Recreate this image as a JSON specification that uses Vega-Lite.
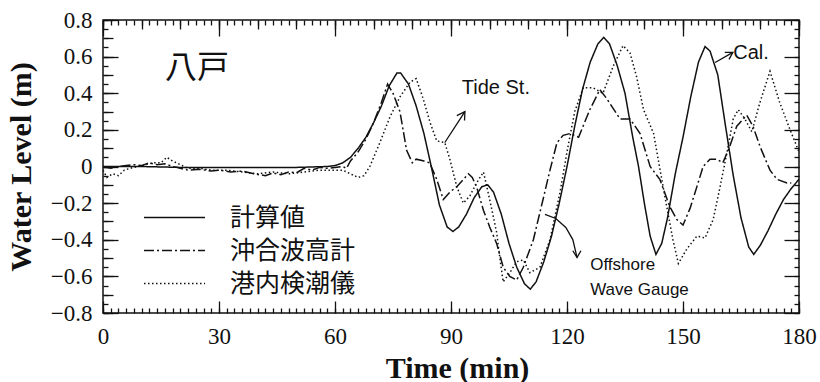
{
  "$schema": "https://vega.github.io/schema/vega-lite/v6.json",
  "width": 696,
  "height": 293,
  "autosize": {"type": "none"},
  "padding": {"left": 103, "top": 20, "right": 21, "bottom": 69},
  "background": "white",
  "config": {
    "view": {"stroke": "#111", "strokeWidth": 1.5},
    "axis": {"domain": false, "grid": false, "ticks": false, "labelFont": "Liberation Serif", "labelFontSize": 23, "labelColor": "#111", "gridColor": "#111", "gridWidth": 1.3, "gridOpacity": 1, "titleFont": "Liberation Serif", "titleFontSize": 30, "titleFontWeight": "bold", "titleColor": "#111"},
    "legend": {"orient": "none", "legendX": 59, "legendY": 185, "padding": 0, "labelFont": "Noto Sans CJK JP", "labelFontSize": 25, "labelColor": "#111", "labelOffset": 43, "rowPadding": 7, "symbolType": "M-3.05,0L3.05,0", "symbolSize": 400, "symbolStrokeWidth": 1.6, "symbolStrokeColor": "#111"}
  },
  "datasets": {
    "main": [
      {"s":"計算値","t":0,"v":0},{"s":"計算値","t":10,"v":0},{"s":"計算値","t":20,"v":-0.005},{"s":"計算値","t":30,"v":-0.005},{"s":"計算値","t":40,"v":-0.005},{"s":"計算値","t":50,"v":-0.005},{"s":"計算値","t":58,"v":0},{"s":"計算値","t":60,"v":0.005},{"s":"計算値","t":62,"v":0.02},{"s":"計算値","t":64,"v":0.05},{"s":"計算値","t":66,"v":0.1},{"s":"計算値","t":68,"v":0.16},{"s":"計算値","t":70,"v":0.24},{"s":"計算値","t":72,"v":0.33},{"s":"計算値","t":74,"v":0.44},{"s":"計算値","t":76,"v":0.51},{"s":"計算値","t":77,"v":0.51},{"s":"計算値","t":79,"v":0.45},{"s":"計算値","t":81,"v":0.33},{"s":"計算値","t":83,"v":0.18},{"s":"計算値","t":85,"v":-0.01},{"s":"計算値","t":87,"v":-0.21},{"s":"計算値","t":89,"v":-0.33},{"s":"計算値","t":90.5,"v":-0.355},{"s":"計算値","t":92,"v":-0.33},{"s":"計算値","t":94,"v":-0.26},{"s":"計算値","t":96,"v":-0.17},{"s":"計算値","t":98,"v":-0.11},{"s":"計算値","t":99.5,"v":-0.1},{"s":"計算値","t":101,"v":-0.14},{"s":"計算値","t":103,"v":-0.26},{"s":"計算値","t":105,"v":-0.42},{"s":"計算値","t":107,"v":-0.55},{"s":"計算値","t":109,"v":-0.64},{"s":"計算値","t":110.5,"v":-0.67},{"s":"計算値","t":112,"v":-0.63},{"s":"計算値","t":114,"v":-0.52},{"s":"計算値","t":116,"v":-0.38},{"s":"計算値","t":118,"v":-0.2},{"s":"計算値","t":120,"v":0},{"s":"計算値","t":122,"v":0.22},{"s":"計算値","t":124,"v":0.42},{"s":"計算値","t":126,"v":0.57},{"s":"計算値","t":128,"v":0.67},{"s":"計算値","t":129.5,"v":0.705},{"s":"計算値","t":131,"v":0.67},{"s":"計算値","t":133,"v":0.55},{"s":"計算値","t":135,"v":0.4},{"s":"計算値","t":137,"v":0.16},{"s":"計算値","t":138.5,"v":0},{"s":"計算値","t":140,"v":-0.2},{"s":"計算値","t":141.5,"v":-0.38},{"s":"計算値","t":143,"v":-0.48},{"s":"計算値","t":144.5,"v":-0.42},{"s":"計算値","t":146,"v":-0.28},{"s":"計算値","t":148,"v":-0.04},{"s":"計算値","t":150,"v":0.16},{"s":"計算値","t":152,"v":0.38},{"s":"計算値","t":154,"v":0.57},{"s":"計算値","t":155.7,"v":0.655},{"s":"計算値","t":157,"v":0.63},{"s":"計算値","t":159,"v":0.5},{"s":"計算値","t":161,"v":0.22},{"s":"計算値","t":163,"v":-0.05},{"s":"計算値","t":165,"v":-0.28},{"s":"計算値","t":167,"v":-0.44},{"s":"計算値","t":168.3,"v":-0.48},{"s":"計算値","t":170,"v":-0.43},{"s":"計算値","t":172,"v":-0.35},{"s":"計算値","t":174,"v":-0.26},{"s":"計算値","t":176,"v":-0.18},{"s":"計算値","t":178,"v":-0.12},{"s":"計算値","t":180,"v":-0.07},

      {"s":"沖合波高計","t":0,"v":0},{"s":"沖合波高計","t":2,"v":-0.01},{"s":"沖合波高計","t":4,"v":0},{"s":"沖合波高計","t":6,"v":0.005},{"s":"沖合波高計","t":8,"v":0.01},{"s":"沖合波高計","t":10,"v":0.005},{"s":"沖合波高計","t":12,"v":0.02},{"s":"沖合波高計","t":14,"v":0.01},{"s":"沖合波高計","t":16,"v":0.015},{"s":"沖合波高計","t":18,"v":0},{"s":"沖合波高計","t":20,"v":-0.01},{"s":"沖合波高計","t":22,"v":-0.02},{"s":"沖合波高計","t":25,"v":-0.015},{"s":"沖合波高計","t":28,"v":-0.025},{"s":"沖合波高計","t":30,"v":-0.02},{"s":"沖合波高計","t":33,"v":-0.03},{"s":"沖合波高計","t":36,"v":-0.025},{"s":"沖合波高計","t":39,"v":-0.04},{"s":"沖合波高計","t":42,"v":-0.05},{"s":"沖合波高計","t":44,"v":-0.035},{"s":"沖合波高計","t":46,"v":-0.045},{"s":"沖合波高計","t":48,"v":-0.03},{"s":"沖合波高計","t":50,"v":-0.035},{"s":"沖合波高計","t":52,"v":-0.01},{"s":"沖合波高計","t":54,"v":-0.02},{"s":"沖合波高計","t":56,"v":-0.005},{"s":"沖合波高計","t":58,"v":-0.01},{"s":"沖合波高計","t":60,"v":-0.005},{"s":"沖合波高計","t":62,"v":0},{"s":"沖合波高計","t":63,"v":-0.01},{"s":"沖合波高計","t":64,"v":0.03},{"s":"沖合波高計","t":66,"v":0.08},{"s":"沖合波高計","t":68,"v":0.15},{"s":"沖合波高計","t":70,"v":0.24},{"s":"沖合波高計","t":72,"v":0.35},{"s":"沖合波高計","t":73.6,"v":0.45},{"s":"沖合波高計","t":75,"v":0.4},{"s":"沖合波高計","t":76.8,"v":0.3},{"s":"沖合波高計","t":78.5,"v":0.09},{"s":"沖合波高計","t":80,"v":0.02},{"s":"沖合波高計","t":81,"v":0.04},{"s":"沖合波高計","t":83,"v":0.03},{"s":"沖合波高計","t":84.5,"v":0.02},{"s":"沖合波高計","t":86.3,"v":-0.07},{"s":"沖合波高計","t":88,"v":-0.18},{"s":"沖合波高計","t":89.7,"v":-0.14},{"s":"沖合波高計","t":91.5,"v":-0.11},{"s":"沖合波高計","t":93.2,"v":-0.07},{"s":"沖合波高計","t":94.5,"v":-0.04},{"s":"沖合波高計","t":95.5,"v":-0.06},{"s":"沖合波高計","t":96.6,"v":-0.11},{"s":"沖合波高計","t":98.4,"v":-0.24},{"s":"沖合波高計","t":100,"v":-0.33},{"s":"沖合波高計","t":101.8,"v":-0.42},{"s":"沖合波高計","t":103.5,"v":-0.55},{"s":"沖合波高計","t":105.2,"v":-0.6},{"s":"沖合波高計","t":107,"v":-0.62},{"s":"沖合波高計","t":108.7,"v":-0.55},{"s":"沖合波高計","t":111.3,"v":-0.4},{"s":"沖合波高計","t":113.8,"v":-0.18},{"s":"沖合波高計","t":115.6,"v":-0.02},{"s":"沖合波高計","t":117.4,"v":0.13},{"s":"沖合波高計","t":119,"v":0.17},{"s":"沖合波高計","t":120.8,"v":0.18},{"s":"沖合波高計","t":123,"v":0.16},{"s":"沖合波高計","t":125.9,"v":0.31},{"s":"沖合波高計","t":128.5,"v":0.42},{"s":"沖合波高計","t":130.3,"v":0.37},{"s":"沖合波高計","t":133.7,"v":0.26},{"s":"沖合波高計","t":136.3,"v":0.26},{"s":"沖合波高計","t":138.9,"v":0.18},{"s":"沖合波高計","t":141.5,"v":0},{"s":"沖合波高計","t":144,"v":-0.07},{"s":"沖合波高計","t":146.6,"v":-0.22},{"s":"沖合波高計","t":148.4,"v":-0.29},{"s":"沖合波高計","t":150,"v":-0.32},{"s":"沖合波高計","t":151.8,"v":-0.23},{"s":"沖合波高計","t":153.6,"v":-0.11},{"s":"沖合波高計","t":155.2,"v":0},{"s":"沖合波高計","t":157,"v":0.04},{"s":"沖合波高計","t":158.8,"v":0.04},{"s":"沖合波高計","t":160.3,"v":0.02},{"s":"沖合波高計","t":162.1,"v":0.11},{"s":"沖合波高計","t":163.9,"v":0.22},{"s":"沖合波高計","t":166.5,"v":0.28},{"s":"沖合波高計","t":168.1,"v":0.22},{"s":"沖合波高計","t":169.9,"v":0.11},{"s":"沖合波高計","t":172.5,"v":-0.02},{"s":"沖合波高計","t":174.3,"v":-0.07},{"s":"沖合波高計","t":176.9,"v":-0.09},{"s":"沖合波高計","t":178,"v":-0.09},

      {"s":"港内検潮儀","t":0,"v":-0.02},{"s":"港内検潮儀","t":1,"v":-0.06},{"s":"港内検潮儀","t":2.5,"v":-0.04},{"s":"港内検潮儀","t":4,"v":-0.05},{"s":"港内検潮儀","t":5.5,"v":-0.02},{"s":"港内検潮儀","t":7,"v":-0.01},{"s":"港内検潮儀","t":9,"v":0},{"s":"港内検潮儀","t":11,"v":0.01},{"s":"港内検潮儀","t":13,"v":0.02},{"s":"港内検潮儀","t":15,"v":0.02},{"s":"港内検潮儀","t":16.5,"v":0.05},{"s":"港内検潮儀","t":18,"v":0.03},{"s":"港内検潮儀","t":20,"v":0.01},{"s":"港内検潮儀","t":22,"v":-0.01},{"s":"港内検潮儀","t":25,"v":-0.01},{"s":"港内検潮儀","t":28,"v":-0.02},{"s":"港内検潮儀","t":32,"v":-0.02},{"s":"港内検潮儀","t":36,"v":-0.03},{"s":"港内検潮儀","t":40,"v":-0.04},{"s":"港内検潮儀","t":44,"v":-0.03},{"s":"港内検潮儀","t":48,"v":-0.04},{"s":"港内検潮儀","t":52,"v":-0.03},{"s":"港内検潮儀","t":56,"v":-0.02},{"s":"港内検潮儀","t":60,"v":-0.02},{"s":"港内検潮儀","t":62,"v":-0.02},{"s":"港内検潮儀","t":64,"v":-0.04},{"s":"港内検潮儀","t":66,"v":-0.06},{"s":"港内検潮儀","t":67.5,"v":-0.05},{"s":"港内検潮儀","t":69,"v":0},{"s":"港内検潮儀","t":71.6,"v":0.13},{"s":"港内検潮儀","t":74.2,"v":0.27},{"s":"港内検潮儀","t":76.8,"v":0.38},{"s":"港内検潮儀","t":79.4,"v":0.46},{"s":"港内検潮儀","t":81,"v":0.48},{"s":"港内検潮儀","t":82.8,"v":0.37},{"s":"港内検潮儀","t":84.6,"v":0.24},{"s":"港内検潮儀","t":86.3,"v":0.14},{"s":"港内検潮儀","t":88.4,"v":0.13},{"s":"港内検潮儀","t":89.7,"v":0.04},{"s":"港内検潮儀","t":91.5,"v":-0.11},{"s":"港内検潮儀","t":93.2,"v":-0.2},{"s":"港内検潮儀","t":94.9,"v":-0.16},{"s":"港内検潮儀","t":96.6,"v":-0.09},{"s":"港内検潮儀","t":98.4,"v":-0.03},{"s":"港内検潮儀","t":100,"v":-0.18},{"s":"港内検潮儀","t":101.8,"v":-0.36},{"s":"港内検潮儀","t":102.7,"v":-0.51},{"s":"港内検潮儀","t":103.5,"v":-0.63},{"s":"港内検潮儀","t":105.2,"v":-0.58},{"s":"港内検潮儀","t":107,"v":-0.52},{"s":"港内検潮儀","t":108.7,"v":-0.51},{"s":"港内検潮儀","t":110.4,"v":-0.58},{"s":"港内検潮儀","t":113,"v":-0.55},{"s":"港内検潮儀","t":115.6,"v":-0.4},{"s":"港内検潮儀","t":118.2,"v":-0.14},{"s":"港内検潮儀","t":120,"v":0.08},{"s":"港内検潮儀","t":122,"v":0.3},{"s":"港内検潮儀","t":124.2,"v":0.43},{"s":"港内検潮儀","t":126.7,"v":0.43},{"s":"港内検潮儀","t":129.3,"v":0.4},{"s":"港内検潮儀","t":132,"v":0.55},{"s":"港内検潮儀","t":134.5,"v":0.66},{"s":"港内検潮儀","t":136.3,"v":0.62},{"s":"港内検潮儀","t":138,"v":0.49},{"s":"港内検潮儀","t":139.8,"v":0.31},{"s":"港内検潮儀","t":142.4,"v":0.18},{"s":"港内検潮儀","t":144,"v":-0.01},{"s":"港内検潮儀","t":145.8,"v":-0.22},{"s":"港内検潮儀","t":147.4,"v":-0.4},{"s":"港内検潮儀","t":148.8,"v":-0.53},{"s":"港内検潮儀","t":151,"v":-0.45},{"s":"港内検潮儀","t":153.6,"v":-0.38},{"s":"港内検潮儀","t":155.7,"v":-0.39},{"s":"港内検潮儀","t":157.8,"v":-0.29},{"s":"港内検潮儀","t":159.6,"v":-0.11},{"s":"港内検潮儀","t":161.4,"v":0.08},{"s":"港内検潮儀","t":163,"v":0.26},{"s":"港内検潮儀","t":164.3,"v":0.31},{"s":"港内検潮儀","t":166,"v":0.26},{"s":"港内検潮儀","t":167.8,"v":0.19},{"s":"港内検潮儀","t":169.9,"v":0.35},{"s":"港内検潮儀","t":172.5,"v":0.52},{"s":"港内検潮儀","t":175,"v":0.35},{"s":"港内検潮儀","t":177.7,"v":0.2},{"s":"港内検潮儀","t":180,"v":0.08}
    ],
    "labels": [
      {"label": "八戸", "t": 24.3, "v": 0.54, "kind": "big"},
      {"label": "Tide St.", "t": 101.6, "v": 0.43, "kind": "note"},
      {"label": "Cal.", "t": 167.6, "v": 0.62, "kind": "note"},
      {"label": "Offshore", "t": 126, "v": -0.54, "kind": "note2"},
      {"label": "Wave Gauge", "t": 126, "v": -0.675, "kind": "note2"}
    ],
    "arrows": [
      {"a": "tide", "o": 1, "t": 88.4, "v": 0.131},
      {"a": "tide", "o": 2, "t": 93.6, "v": 0.3},
      {"a": "tideh", "o": 1, "t": 91.5, "v": 0.278},
      {"a": "tideh", "o": 2, "t": 93.6, "v": 0.3},
      {"a": "tideh", "o": 3, "t": 93.5, "v": 0.251},
      {"a": "cal", "o": 1, "t": 158.3, "v": 0.568},
      {"a": "cal", "o": 2, "t": 162.9, "v": 0.623},
      {"a": "calh", "o": 1, "t": 160.8, "v": 0.623},
      {"a": "calh", "o": 2, "t": 162.9, "v": 0.623},
      {"a": "calh", "o": 3, "t": 161.9, "v": 0.585},
      {"a": "off", "o": 1, "t": 114.3, "v": -0.262},
      {"a": "off", "o": 2, "t": 117.1, "v": -0.284},
      {"a": "off", "o": 3, "t": 119.7, "v": -0.333},
      {"a": "off", "o": 4, "t": 121.5, "v": -0.399},
      {"a": "off", "o": 5, "t": 122.6, "v": -0.497},
      {"a": "offh", "o": 1, "t": 121.5, "v": -0.46},
      {"a": "offh", "o": 2, "t": 122.6, "v": -0.497},
      {"a": "offh", "o": 3, "t": 123.6, "v": -0.46}
    ]
  },
  "layer": [
    {
      "mark": {"type": "rule", "strokeDash": [1.5, 3], "strokeWidth": 1.2, "color": "#222"},
      "encoding": {"y": {"datum": 0, "type": "quantitative", "scale": {"domain": [-0.8, 0.8], "nice": false, "zero": false}, "axis": null}}
    },
    {
      "data": {"name": "main"},
      "mark": {"type": "line", "strokeWidth": 1.5, "color": "#111", "clip": true},
      "encoding": {
        "x": {"field": "t", "type": "quantitative", "scale": {"domain": [0, 180], "nice": false, "zero": false},
          "axis": {"orient": "bottom", "title": "Time (min)", "titleX": 354, "titleY": 55, "titleBaseline": "middle", "titleAlign": "center",
            "values": [0, 10, 20, 30, 40, 50, 60, 70, 80, 90, 100, 110, 120, 130, 140, 150, 160, 170, 180],
            "grid": true, "gridDash": [9, 1000],
            "labelExpr": "datum.value % 30 === 0 ? datum.label : ''",
            "labelFont": "Liberation Serif", "labelFontSize": 23,
            "labelPadding": 12, "labelBaseline": "top", "labelFlush": false, "labelOverlap": false}},
        "y": {"field": "v", "type": "quantitative", "scale": {"domain": [-0.8, 0.8], "nice": false, "zero": false},
          "axis": {"orient": "left", "title": "Water Level (m)", "titleX": -82, "titleY": 146.5, "titleAngle": 270, "titleBaseline": "middle", "titleAlign": "center",
            "values": [-0.8, -0.7, -0.6, -0.5, -0.4, -0.3, -0.2, -0.1, 0, 0.1, 0.2, 0.3, 0.4, 0.5, 0.6, 0.7, 0.8],
            "grid": true, "gridDash": [10, 1000],
            "labelExpr": "abs(datum.value) < 1e-9 ? '0' : (abs(round(datum.value*10)) % 2 === 0 ? format(datum.value, '.1f') : '')",
            "labelFont": "Liberation Serif", "labelFontSize": 23,
            "labelPadding": 11, "labelFlush": false, "labelOverlap": false}},
        "strokeDash": {"field": "s", "type": "nominal", "title": null,
          "scale": {"domain": ["計算値", "沖合波高計", "港内検潮儀"], "range": [[1, 0], [10, 3, 2, 3], [1.5, 2.5]]}},
        "detail": {"field": "s"}
      }
    },
    {
      "data": {"name": "arrows"},
      "mark": {"type": "line", "strokeWidth": 1.3, "color": "#111"},
      "encoding": {
        "x": {"field": "t", "type": "quantitative", "scale": {"domain": [0, 180], "nice": false, "zero": false},
          "axis": {"orient": "bottom", "title": null, "labels": false, "grid": true, "gridDash": [5, 1000],
            "values": [0,2,4,6,8,10,12,14,16,18,20,22,24,26,28,30,32,34,36,38,40,42,44,46,48,50,52,54,56,58,60,62,64,66,68,70,72,74,76,78,80,82,84,86,88,90,92,94,96,98,100,102,104,106,108,110,112,114,116,118,120,122,124,126,128,130,132,134,136,138,140,142,144,146,148,150,152,154,156,158,160,162,164,166,168,170,172,174,176,178,180]}},
        "y": {"field": "v", "type": "quantitative", "scale": {"domain": [-0.8, 0.8], "nice": false, "zero": false},
          "axis": {"orient": "left", "title": null, "labels": false, "grid": true, "gridDash": [5, 1000],
            "values": [-0.8,-0.75,-0.7,-0.65,-0.6,-0.55,-0.5,-0.45,-0.4,-0.35,-0.3,-0.25,-0.2,-0.15,-0.1,-0.05,0,0.05,0.1,0.15,0.2,0.25,0.3,0.35,0.4,0.45,0.5,0.55,0.6,0.65,0.7,0.75,0.8]}},
        "detail": {"field": "a"},
        "order": {"field": "o"}
      }
    },
    {
      "data": {"name": "labels"},
      "transform": [{"filter": "datum.kind === 'big'"}],
      "mark": {"type": "text", "font": "Noto Sans CJK JP", "fontSize": 32, "color": "#111", "align": "center", "baseline": "middle"},
      "encoding": {
        "x": {"field": "t", "type": "quantitative", "scale": {"domain": [0, 180], "nice": false, "zero": false},
          "axis": {"orient": "bottom", "title": null, "labels": false, "grid": true, "gridDash": [16, 1000], "values": [0, 30, 60, 90, 120, 150, 180]}},
        "y": {"field": "v", "type": "quantitative", "scale": {"domain": [-0.8, 0.8], "nice": false, "zero": false},
          "axis": {"orient": "left", "title": null, "labels": false, "grid": true, "gridDash": [15, 1000], "values": [-0.8, -0.6, -0.4, -0.2, 0, 0.2, 0.4, 0.6, 0.8]}},
        "text": {"field": "label"}
      }
    },
    {
      "data": {"name": "labels"},
      "transform": [{"filter": "datum.kind === 'note'"}],
      "mark": {"type": "text", "font": "Liberation Sans", "fontSize": 20, "color": "#111", "align": "center", "baseline": "middle"},
      "encoding": {
        "x": {"field": "t", "type": "quantitative", "scale": {"domain": [0, 180], "nice": false, "zero": false},
          "axis": {"orient": "top", "title": null, "labels": false, "grid": true, "gridDash": [5, 1000],
            "values": [0,2,4,6,8,10,12,14,16,18,20,22,24,26,28,30,32,34,36,38,40,42,44,46,48,50,52,54,56,58,60,62,64,66,68,70,72,74,76,78,80,82,84,86,88,90,92,94,96,98,100,102,104,106,108,110,112,114,116,118,120,122,124,126,128,130,132,134,136,138,140,142,144,146,148,150,152,154,156,158,160,162,164,166,168,170,172,174,176,178,180]}},
        "y": {"field": "v", "type": "quantitative", "scale": {"domain": [-0.8, 0.8], "nice": false, "zero": false},
          "axis": {"orient": "right", "title": null, "labels": false, "grid": true, "gridDash": [5, 1000],
            "values": [-0.8,-0.75,-0.7,-0.65,-0.6,-0.55,-0.5,-0.45,-0.4,-0.35,-0.3,-0.25,-0.2,-0.15,-0.1,-0.05,0,0.05,0.1,0.15,0.2,0.25,0.3,0.35,0.4,0.45,0.5,0.55,0.6,0.65,0.7,0.75,0.8]}},
        "text": {"field": "label"}
      }
    },
    {
      "data": {"name": "labels"},
      "transform": [{"filter": "datum.kind === 'note2'"}],
      "mark": {"type": "text", "font": "Liberation Sans", "fontSize": 17, "color": "#111", "align": "left", "baseline": "middle"},
      "encoding": {
        "x": {"field": "t", "type": "quantitative", "scale": {"domain": [0, 180], "nice": false, "zero": false},
          "axis": {"orient": "top", "title": null, "labels": false, "grid": true, "gridDash": [12, 1000], "values": [0, 30, 60, 90, 120, 150, 180]}},
        "y": {"field": "v", "type": "quantitative", "scale": {"domain": [-0.8, 0.8], "nice": false, "zero": false},
          "axis": {"orient": "right", "title": null, "labels": false, "grid": true, "gridDash": [15, 1000], "values": [-0.8, -0.6, -0.4, -0.2, 0, 0.2, 0.4, 0.6, 0.8]}},
        "text": {"field": "label"}
      }
    }
  ],
  "resolve": {"scale": {"x": "independent", "y": "independent"}, "axis": {"x": "independent", "y": "independent"}}
}
